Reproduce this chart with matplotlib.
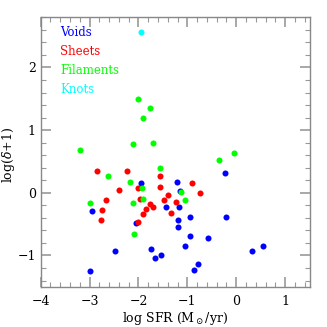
import numpy as np
import matplotlib
matplotlib.use("Agg")
import matplotlib.pyplot as plt
from matplotlib.ticker import MultipleLocator

# log SFR, log(delta+1) per environment
voids_x = [-1.94, -1.21, -1.16, -0.23, -1.44, -1.18, -2.96, -1.19, -0.95, -0.20, -2.04, -1.19,
           -0.95, -0.57, -1.04, 0.55, 0.32, -2.47, -1.75, -1.54, -1.66, -0.78, -0.86, -2.99]
voids_y = [0.16, 0.17, 0.03, 0.31, -0.22, -0.23, -0.29, -0.44, -0.38, -0.39, -0.48, -0.55,
           -0.69, -0.72, -0.85, -0.85, -0.93, -0.93, -0.89, -0.99, -1.04, -1.13, -1.23, -1.25]
sheets_x = [-2.85, -2.23, -1.55, -0.91, -2.39, -2.01, -1.55, -0.74, -1.40, -2.67, -1.97, -1.48,
            -1.23, -2.74, -1.77, -1.71, -1.84, -1.91, -1.33, -2.76, -2.01]
sheets_y = [0.35, 0.35, 0.26, 0.15, 0.04, 0.07, 0.09, -0.01, -0.03, -0.12, -0.10, -0.11,
            -0.15, -0.27, -0.18, -0.22, -0.26, -0.34, -0.32, -0.43, -0.47]
fil_x = [-2.01, -1.77, -1.90, -2.12, -1.71, -3.20, -0.05, -0.36, -1.55, -2.63, -2.17, -1.92,
         -1.12, -2.99, -2.11, -1.90, -1.04, -2.10]
fil_y = [1.50, 1.36, 1.19, 0.78, 0.80, 0.69, 0.64, 0.52, 0.40, 0.26, 0.18, 0.07,
         0.02, -0.16, -0.16, -0.10, -0.12, -0.65]
knots_x = [-1.94]
knots_y = [2.57]

labels = ["Voids", "Sheets", "Filaments", "Knots"]
colors = ["#0000ff", "#ff0000", "#00ff00", "#00ffff"]

plt.rcParams['font.family'] = ['DejaVu Serif']
plt.rcParams['mathtext.fontset'] = 'dejavuserif'

fig = plt.figure(figsize=(3.27, 3.27), dpi=100)
ax = fig.add_axes([0.1245, 0.123, 0.822, 0.824])

data = [(voids_x, voids_y), (sheets_x, sheets_y), (fil_x, fil_y), (knots_x, knots_y)]
for (x, y), c in zip(data, colors):
    ax.scatter(x, y, s=19, color=c, linewidths=0, zorder=3)

for i, (lab, c) in enumerate(zip(labels, colors)):
    ax.text(0.072, 0.943 - i * 0.0705, lab, color=c, fontsize=8.5,
            transform=ax.transAxes, va='center', ha='left')

ax.set_xlim(-4, 1.5)
ax.set_ylim(-1.5, 2.8)
ax.xaxis.set_major_locator(MultipleLocator(1))
ax.xaxis.set_minor_locator(MultipleLocator(0.2))
ax.yaxis.set_major_locator(MultipleLocator(1))
ax.yaxis.set_minor_locator(MultipleLocator(0.2))
ax.tick_params(which='both', direction='in', top=True, right=True, color='#999999',
               labelsize=9)
ax.tick_params(axis='x', which='major', pad=6)
ax.tick_params(which='major', length=7, width=1.2)
ax.tick_params(which='minor', length=3.5, width=0.8)
for sp in ax.spines.values():
    sp.set_color('#888888')
    sp.set_linewidth(1)

ax.set_xlabel(r"log SFR (M$_\odot$/yr)", fontsize=9)
ax.xaxis.set_label_coords(0.5, -0.085)
ax.xaxis.label.set_va('top')
ax.set_ylabel(r"log($\delta$+1)", fontsize=9)
ax.yaxis.set_label_coords(-0.09, 0.49)

fig.savefig("out.png", dpi=100)
